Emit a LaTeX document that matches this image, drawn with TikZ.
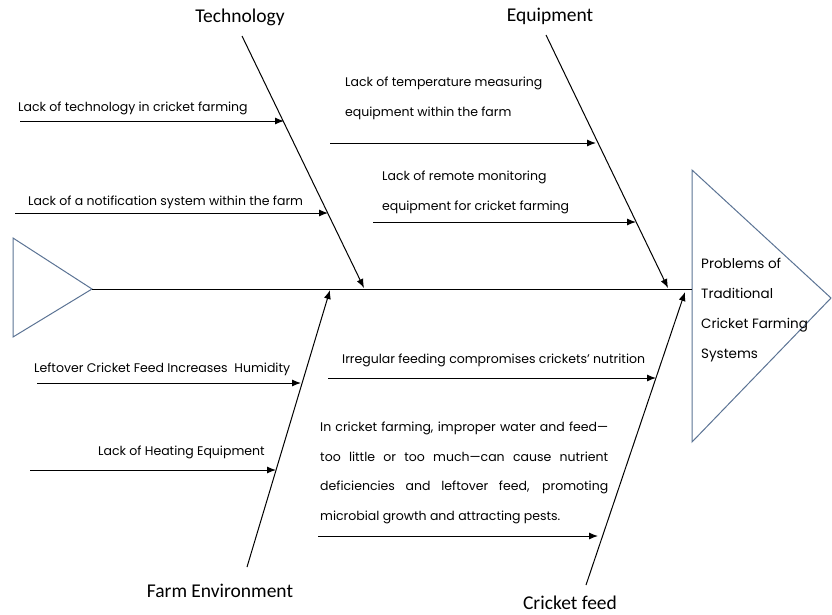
\documentclass[tikz,border=0pt]{standalone}
\usepackage{fontspec}
\setmainfont{Poppins}
\newfontfamily\catfont{Carlito}
\usetikzlibrary{arrows.meta}
\definecolor{tri}{HTML}{5B7394}
\begin{document}
\begin{tikzpicture}[x=1pt,y=-1pt,
  bone/.style={line width=1pt,-{Latex[length=9pt,width=7pt]}},
  subarrow/.style={line width=1pt,-{Latex[length=9pt,width=7pt]}},
  cause/.style={font=\fontsize{12.5}{30}\selectfont,inner sep=0pt,anchor=west,align=left},
  cat/.style={font=\catfont\fontsize{19.5}{22}\selectfont,inner sep=0pt},
  res/.style={font=\fontsize{13.5}{16}\selectfont,inner sep=0pt,anchor=west},
  headshape/.style={draw=tri,line width=1pt}]
\useasboundingbox (0,0) rectangle (832,614);
% heads
\draw[headshape] (13,238) -- (92,289) -- (13,337) -- cycle;
\draw[headshape] (692,170) -- (831,298) -- (692,442) -- cycle;
\coordinate (tail) at (92,289);
\coordinate (head) at (692,289);
\draw[line width=1pt] (tail) -- (head);
% bones
\coordinate (tT) at (242,36);  \coordinate (tE) at (364,288);
\coordinate (eT) at (546,35);  \coordinate (eE) at (668,288);
\coordinate (fB) at (247,567); \coordinate (fE) at (330,290);
\coordinate (cB) at (586,585); \coordinate (cE) at (685,292);
\draw[bone] (tT) -- (tE);
\draw[bone] (eT) -- (eE);
\draw[bone] (fB) -- (fE);
\draw[bone] (cB) -- (cE);
% category labels
\node[cat] (lt) at (240,17) {Technology};
\node[cat] (le) at (550,16) {Equipment};
\node[cat] (lf) at (220,591) {Farm Environment};
\node[cat] (lc) at (570,603) {Cricket feed};
% result
\node[res] (r1) at (701,263) {Problems of};
\node[res] (r2) at (701,293) {Traditional};
\node[res] (r3) at (701,325) {Cricket Farming};
\node[res] (r4) at (701,355) {Systems};
% technology causes
\coordinate (a1s) at (20,121);  \coordinate (a1e) at (284,121);
\coordinate (a2s) at (15,213);  \coordinate (a2e) at (328,213);
\draw[subarrow] (a1s) -- (a1e);
\draw[subarrow] (a2s) -- (a2e);
\node[cause] (t1) at (18,108) {Lack of technology in cricket farming};
\node[cause] (t2) at (28,202) {Lack of a notification system within the farm};
% equipment causes
\coordinate (b1s) at (330,143); \coordinate (b1e) at (596,143);
\coordinate (b2s) at (373,222); \coordinate (b2e) at (636,222);
\draw[subarrow] (b1s) -- (b1e);
\draw[subarrow] (b2s) -- (b2e);
\node[cause] (e1) at (345,98) {Lack of temperature measuring\\equipment within the farm};
\node[cause] (e2) at (382,192) {Lack of remote monitoring\\equipment for cricket farming};
% farm environment causes
\coordinate (c1s) at (37,383);  \coordinate (c1e) at (301,383);
\coordinate (c2s) at (30,470);  \coordinate (c2e) at (276,470);
\draw[subarrow] (c1s) -- (c1e);
\draw[subarrow] (c2s) -- (c2e);
\node[cause] (f1) at (34,369) {Leftover Cricket Feed Increases\ \ Humidity};
\node[cause] (f2) at (98,452) {Lack of Heating Equipment};
% cricket feed causes
\coordinate (d1s) at (328,378); \coordinate (d1e) at (656,378);
\coordinate (d2s) at (318,536); \coordinate (d2e) at (598,536);
\draw[subarrow] (d1s) -- (d1e);
\draw[subarrow] (d2s) -- (d2e);
\node[cause] (g1) at (342,360) {Irregular feeding compromises crickets’ nutrition};
\node[cause] (g2) at (320,428) {\makebox[288pt][s]{In cricket farming, improper water and feed—}};
\node[cause] (g3) at (320,457) {\makebox[288pt][s]{too little or too much—can cause nutrient}};
\node[cause] (g4) at (320,487) {\makebox[288pt][s]{deficiencies and leftover feed, promoting}};
\node[cause] (g5) at (320,517) {microbial growth and attracting pests.};
\end{tikzpicture}
\end{document}
